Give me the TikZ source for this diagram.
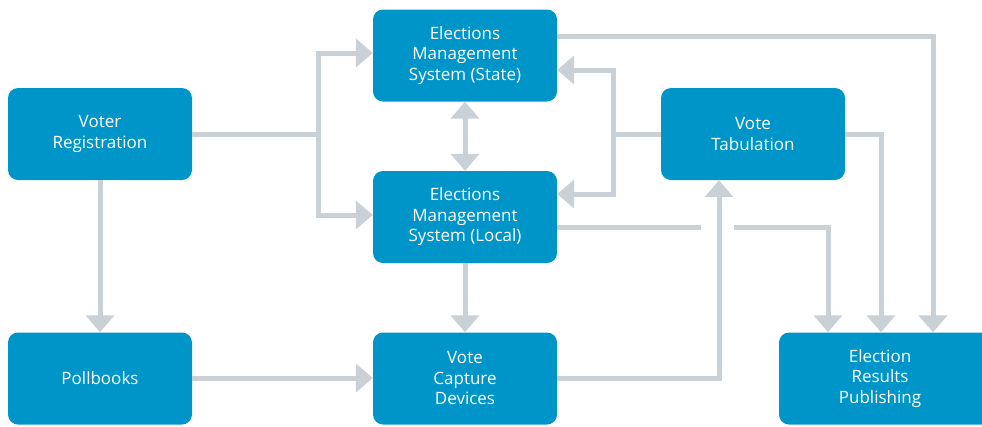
\documentclass[tikz,border=0pt]{standalone}
\usepackage{fontspec}
\setmainfont{Open Sans}
\usetikzlibrary{arrows.meta}
\definecolor{boxblue}{HTML}{0095C9}
\definecolor{linegray}{HTML}{C9D1D6}
\tikzset{
  box/.style={fill=boxblue, rounded corners=10pt, minimum width=184pt, minimum height=92pt,
    text=white, align=center, inner sep=0pt, font=\fontsize{17}{20.5}\selectfont},
  conn/.style={draw=linegray, line width=5pt},
  arr/.style={conn, -{Triangle[length=17pt,width=28pt]}},
  darr/.style={conn, {Triangle[length=17pt,width=28pt]}-{Triangle[length=17pt,width=28pt]}},
}
\begin{document}
\begin{tikzpicture}[x=1pt,y=-1pt]
\useasboundingbox (0,0) rectangle (982,426);
\node[box] (vr) at (100,134) {Voter\\Registration};
\node[box] (emss) at (465,55.5) {Elections\\Management\\System (State)};
\node[box] (emsl) at (465,217) {Elections\\Management\\System (Local)};
\node[box] (vt) at (753,134) {Vote\\Tabulation};
\node[box] (pb) at (100,378.5) {Pollbooks};
\node[box] (vcd) at (465,378.5) {Vote\\Capture\\Devices};
\node[box, minimum width=222pt] (erp) at (890,378.5) {};
\node[text=white, align=center, inner sep=0pt, font=\fontsize{17}{20.5}\selectfont] (erpt) at (880,378.5) {Election\\Results\\Publishing};
% coordinates
\coordinate (j1) at (318,134);
\coordinate (j2) at (613,134);
\coordinate (g1) at (701,227);
\coordinate (g2) at (734,227);
% voter registration
\draw[conn] (vr.east |- j1) -- (j1);
\draw[arr] (j1) |- (emss.west |- 0,53);
\draw[arr] (j1) |- (emsl.west |- 0,215);
\draw[arr] (vr.south) -- (pb.north);
% EMS
\draw[darr] (emss.south) -- (emsl.north);
\draw[arr] (emsl.south) -- (vcd.north);
% pollbooks
\draw[arr] (pb.east |- 0,378) -- (vcd.west |- 0,378);
% vote capture to tabulation
\draw[arr] (vcd.east |- 0,378) -| (vt.south -| 719,0);
% tabulation to EMS
\draw[conn] (vt.west) -- (j2);
\draw[arr] (j2) |- (emss.east |- 0,70);
\draw[arr] (j2) |- (emsl.east |- 0,194);
% to results publishing
\draw[arr] (emss.east |- 0,36) -| (erp.north -| 933,0);
\draw[arr] (vt.east) -| (erp.north -| 881,0);
\draw[conn] (emsl.east |- g1) -- (g1);
\draw[arr] (g2) -| (erp.north -| 828,0);
\end{tikzpicture}
\end{document}
